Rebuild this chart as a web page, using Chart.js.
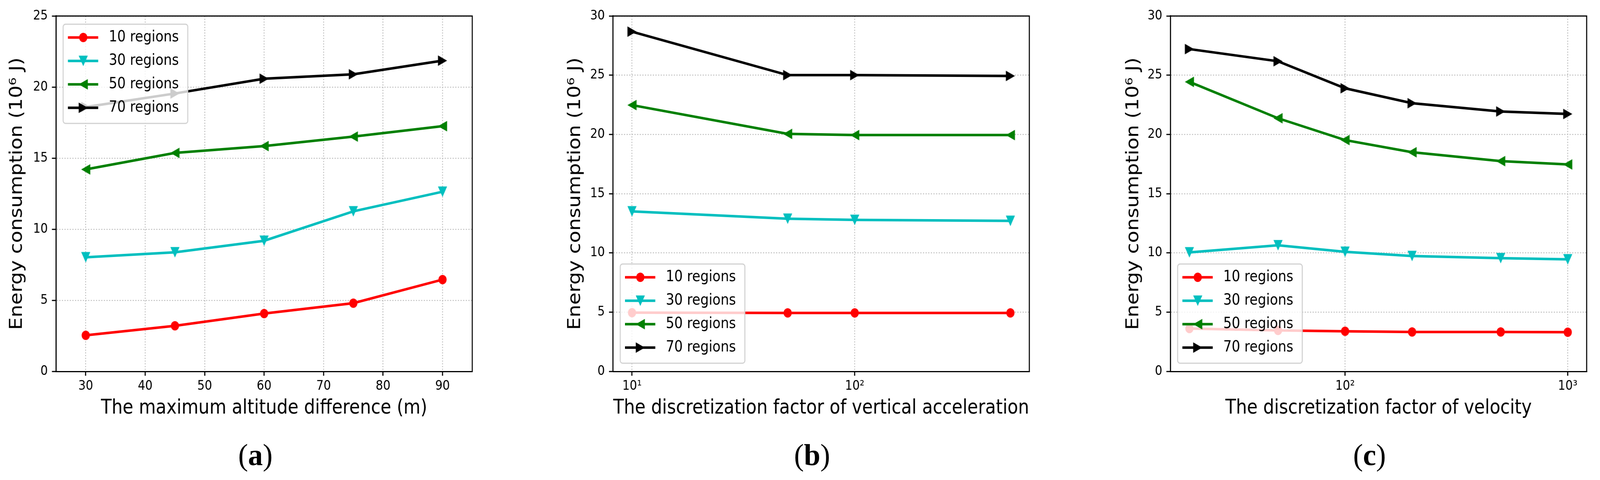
<!DOCTYPE html>
<html>
<head>
<meta charset="utf-8">
<script src="https://cdn.jsdelivr.net/npm/chart.js@4.4.1/dist/chart.umd.min.js"></script>
<style>
  html, body { margin: 0; padding: 0; background: #fff; overflow: hidden; }
  #page { position: absolute; left: 0; top: 0; width: 4228px; height: 1229px; transform-origin: 0 0; }
  /* the published figure is squeezed horizontally: bitmaps are drawn wide, shown at 0.9 width */
  #page canvas { position: absolute; top: 0; height: 1229px; }
  .cap { position: absolute; top: 1126px; font-family: "Liberation Serif", "DejaVu Serif", serif;
         font-size: 78px; line-height: 78px; transform: translateX(-50%); white-space: nowrap; color: #000; }
  .cap b { font-weight: bold; }
</style>
</head>
<body>
<div id="page">
  <canvas id="chartA" width="1500" height="1229" style="left:0px;width:1350px;height:1229px"></canvas>
  <canvas id="chartB" width="1500" height="1229" style="left:1404px;width:1350px;height:1229px"></canvas>
  <canvas id="chartC" width="1497" height="1229" style="left:2880px;width:1347.3px;height:1229px"></canvas>
  <div class="cap" style="left:675px">(<b>a</b>)</div>
  <div class="cap" style="left:2146px">(<b>b</b>)</div>
  <div class="cap" style="left:3619px">(<b>c</b>)</div>
</div>

<script>
// series shared by all three panels
const seriesNames = ['10 regions', '30 regions', '50 regions', '70 regions'];
const seriesColors = ['#ff0000', '#00bfbf', '#008000', '#000000'];
const seriesMarkers = ['circle', 'down', 'left', 'right'];

// (a) energy vs. maximum altitude difference
const altDiff = [30, 45, 60, 75, 90];
const altR10 = [2.54, 3.21, 4.07, 4.80, 6.46];
const altR30 = [8.03, 8.38, 9.19, 11.26, 12.64];
const altR50 = [14.21, 15.37, 15.85, 16.52, 17.25];
const altR70 = [18.60, 19.55, 20.59, 20.90, 21.86];
const altTicks = [30, 40, 50, 60, 70, 80, 90];

// (b) energy vs. discretization factor of vertical acceleration
const accFactor = [10, 50, 100, 500];
const accR10 = [4.96, 4.94, 4.94, 4.94];
const accR30 = [13.51, 12.89, 12.79, 12.71];
const accR50 = [22.48, 20.05, 19.95, 19.95];
const accR70 = [28.68, 25.01, 25.01, 24.94];
const accTicks = [10, 100];

// (c) energy vs. discretization factor of velocity
const velFactor = [20, 50, 100, 200, 500, 1000];
const velR10 = [3.62, 3.46, 3.39, 3.33, 3.33, 3.31];
const velR30 = [10.05, 10.65, 10.10, 9.74, 9.56, 9.46];
const velR50 = [24.44, 21.37, 19.53, 18.50, 17.75, 17.47];
const velR70 = [27.21, 26.18, 23.90, 22.64, 21.94, 21.73];
const velTicks = [100, 1000];

const yTitle = 'Energy consumption (10⁶ J)';
const sup = { 1: '¹', 2: '²', 3: '³' };

// the window we get can be narrower than 4228, so fit the page into it
const vw = document.documentElement.clientWidth, vh = document.documentElement.clientHeight;
if (Math.abs(vw - 4228) > 2 || Math.abs(vh - 1229) > 2) {
  document.getElementById('page').style.transform = 'scale(' + (vw / 4228) + ',' + (vh / 1229) + ')';
}

Chart.defaults.font.family = '"DejaVu Sans", sans-serif';

// matplotlib-like markers
function makeMarker(shape, color) {
  const s = 30, m = s / 2, r = 13.4;
  const c = document.createElement('canvas');
  c.width = s; c.height = s;
  const g = c.getContext('2d');
  g.fillStyle = color;
  g.beginPath();
  if (shape === 'circle') {
    g.arc(m, m, 12, 0, Math.PI * 2);
  } else if (shape === 'down') {
    g.moveTo(m - r, m - r); g.lineTo(m + r, m - r); g.lineTo(m, m + r);
  } else if (shape === 'left') {
    g.moveTo(m + r, m - r); g.lineTo(m + r, m + r); g.lineTo(m - r, m);
  } else {
    g.moveTo(m - r, m - r); g.lineTo(m - r, m + r); g.lineTo(m + r, m);
  }
  g.closePath();
  g.fill();
  return c;
}
const markers = seriesMarkers.map((s, i) => makeMarker(s, seriesColors[i]));

// top and right spines
const frame = {
  id: 'frame',
  afterDraw(chart) {
    const a = chart.chartArea, ctx = chart.ctx;
    ctx.save();
    ctx.strokeStyle = '#000';
    ctx.lineWidth = 3;
    ctx.beginPath();
    ctx.moveTo(a.left - 1.5, a.top);
    ctx.lineTo(a.right, a.top);
    ctx.lineTo(a.right, a.bottom + 1.5);
    ctx.stroke();
    ctx.restore();
  }
};

// legend drawn inside the axes, like matplotlib
const boxLegend = {
  id: 'boxLegend',
  afterDraw(chart, args, opts) {
    const ctx = chart.ctx, a = chart.chartArea;
    const w = 366, h = 254, rad = 7;
    const x0 = a.left + 21;
    const y0 = opts.corner === 'top' ? a.top + 21 : a.bottom - 21 - h;
    ctx.save();
    ctx.beginPath();
    ctx.moveTo(x0 + rad, y0);
    ctx.arcTo(x0 + w, y0, x0 + w, y0 + h, rad);
    ctx.arcTo(x0 + w, y0 + h, x0, y0 + h, rad);
    ctx.arcTo(x0, y0 + h, x0, y0, rad);
    ctx.arcTo(x0, y0, x0 + w, y0, rad);
    ctx.closePath();
    ctx.fillStyle = 'rgba(255,255,255,0.8)';
    ctx.fill();
    ctx.strokeStyle = 'rgba(204,204,204,0.9)';
    ctx.lineWidth = 3;
    ctx.stroke();
    chart.data.datasets.forEach((ds, i) => {
      const yy = y0 + 34 + i * 60;
      ctx.strokeStyle = ds.borderColor;
      ctx.lineWidth = ds.borderWidth;
      ctx.beginPath();
      ctx.moveTo(x0 + 14, yy);
      ctx.lineTo(x0 + 103, yy);
      ctx.stroke();
      const mk = ds.pointStyle;
      ctx.drawImage(mk, x0 + 59 - mk.width / 2, yy - mk.height / 2);
      ctx.fillStyle = '#000';
      ctx.font = '39px "DejaVu Sans"';
      ctx.textBaseline = 'middle';
      ctx.textAlign = 'left';
      ctx.fillText(ds.label, x0 + 134, yy);
    });
    ctx.restore();
  }
};

const tickFont = { size: 34, lineHeight: 1 };
const titleFont = { size: 51, lineHeight: 1 };
const gridColor = '#bdbdbd';

function makeChart(id, cfg) {
  const datasets = cfg.series.map((vals, i) => ({
    label: seriesNames[i],
    data: cfg.xs.map((x, j) => ({ x: x, y: vals[j] })),
    borderColor: seriesColors[i],
    backgroundColor: seriesColors[i],
    borderWidth: 6.5,
    pointStyle: markers[i],
    pointRadius: 13,
    order: 4 - i,
    tension: 0
  }));

  const xScale = {
    type: cfg.xType,
    min: cfg.xMin,
    max: cfg.xMax,
    afterBuildTicks: s => { s.ticks = cfg.xTicks.map(v => ({ value: v })); },
    afterFit: s => { s.height = 278; },
    grid: { color: gridColor, lineWidth: 2.5, tickColor: '#000', tickWidth: 3.3, tickLength: 11 },
    border: { display: true, color: '#000', width: 3, dash: [3, 4] },
    ticks: {
      color: '#000', font: tickFont, padding: 10, maxRotation: 0, autoSkip: false,
      callback: v => cfg.xType === 'logarithmic' ? '10' + sup[Math.round(Math.log10(v))] : String(v)
    },
    title: { display: true, text: cfg.xTitle, color: '#000', font: titleFont, padding: { top: 0, bottom: 157.5 } }
  };

  const yScale = {
    type: 'linear',
    min: 0,
    max: cfg.yMax,
    ticks: { stepSize: 5, color: '#000', font: tickFont, padding: 12 },
    afterFit: s => { s.width = cfg.axisLeft; },
    grid: { color: gridColor, lineWidth: 2.5, tickColor: '#000', tickWidth: 3, tickLength: 12 },
    border: { display: true, color: '#000', width: 3.3, dash: [3.3, 4.4] },
    title: { display: true, text: yTitle, color: '#000', font: titleFont, padding: { top: cfg.yTitlePad, bottom: 0 } }
  };

  return new Chart(document.getElementById(id), {
    type: 'line',
    data: { datasets: datasets },
    options: {
      responsive: false,
      animation: false,
      devicePixelRatio: 1,
      layout: { padding: { top: 41, right: cfg.padRight, left: 0, bottom: 0 } },
      plugins: {
        legend: { display: false },
        tooltip: { enabled: false },
        boxLegend: { corner: cfg.legendCorner }
      },
      scales: { x: xScale, y: yScale }
    },
    plugins: [frame, boxLegend]
  });
}

makeChart('chartA', {
  xs: altDiff, series: [altR10, altR30, altR50, altR70],
  xType: 'linear', xMin: 25, xMax: 95, xTicks: altTicks,
  xTitle: 'The maximum altitude difference (m)',
  yMax: 25, axisLeft: 164.4, padRight: 113.4, yTitlePad: 25.6, legendCorner: 'top'
});

makeChart('chartB', {
  xs: accFactor, series: [accR10, accR30, accR50, accR70],
  xType: 'logarithmic', xMin: Math.pow(10, 0.915), xMax: Math.pow(10, 2.784), xTicks: accTicks,
  xTitle: 'The discretization factor of vertical acceleration',
  yMax: 30, axisLeft: 240, padRight: 37.8, yTitlePad: 104.5, legendCorner: 'bottom'
});

makeChart('chartC', {
  xs: velFactor, series: [velR10, velR30, velR50, velR70],
  xType: 'logarithmic', xMin: Math.pow(10, 1.216), xMax: Math.pow(10, 3.085), xTicks: velTicks,
  xTitle: 'The discretization factor of velocity',
  yMax: 30, axisLeft: 236.7, padRight: 38.1, yTitlePad: 103.4, legendCorner: 'bottom'
});
</script>
</body>
</html>
